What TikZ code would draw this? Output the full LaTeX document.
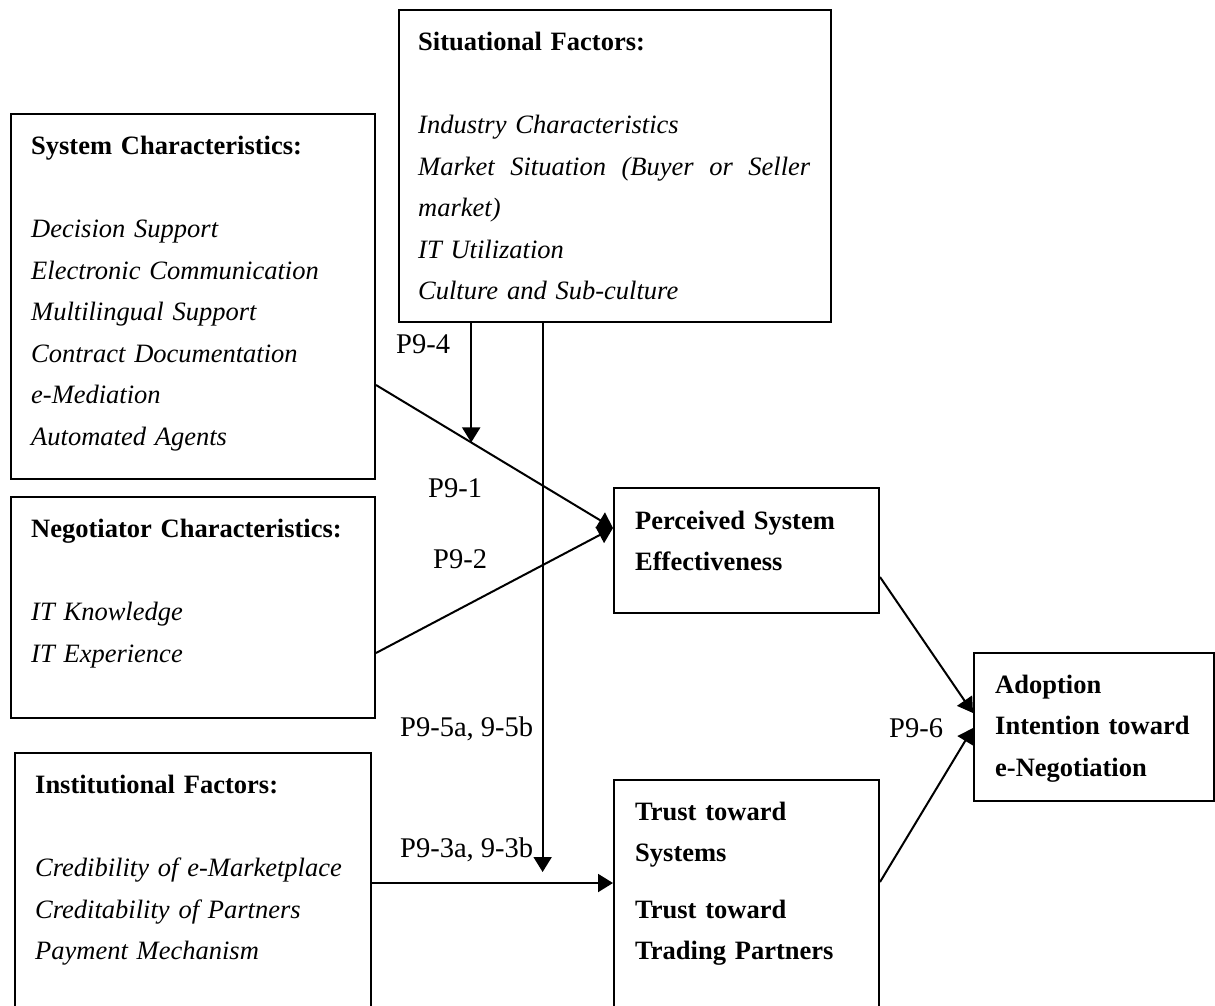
\documentclass[tikz,border=0pt]{standalone}
\usepackage{fontspec}
\setmainfont{Liberation Serif}
\usetikzlibrary{arrows.meta,calc}
\tikzset{
  factor/.style={draw,line width=2pt,anchor=north west,inner sep=0pt},
  facttext/.style={anchor=base west,inner sep=0pt,align=left,font=\fontsize{26.5}{41.5}\selectfont},
  plabel/.style={anchor=base west,inner sep=0pt,font=\fontsize{28.5}{34}\selectfont},
  arr/.style={line width=2pt,-{Triangle[length=15pt,width=18pt]}},
}
\begin{document}
\begin{tikzpicture}[x=1pt,y=-1pt]
  \useasboundingbox (0,0) rectangle (1215,1005);
  \clip (0,0) rectangle (1215,1005);
  \node[factor,minimum width=432pt,minimum height=312pt] (sit) at (398,9) {};
  \node[factor,minimum width=364pt,minimum height=365pt] (sys) at (10,113) {};
  \node[factor,minimum width=364pt,minimum height=221pt] (neg) at (10,496) {};
  \node[factor,minimum width=356pt,minimum height=280pt] (inst) at (14,752) {};
  \node[factor,minimum width=265pt,minimum height=125pt] (pse) at (613,487) {};
  \node[factor,minimum width=265pt,minimum height=250pt] (trust) at (613,779) {};
  \node[factor,minimum width=240pt,minimum height=148pt] (adopt) at (973,652) {};
  \node[facttext,text width=400pt] (sittxt) at ([xshift=20pt,yshift=-41.5pt]sit.north west)
    {\textbf{Situational Factors:}\\[41.5pt]\itshape Industry Characteristics\\
     \leavevmode\hbox to 392pt{Market\hfill Situation\hfill (Buyer\hfill or\hfill Seller}\\ market)\\ IT Utilization\\
     Culture and Sub-culture};
  \node[facttext,text width=340pt] (systxt) at ([xshift=21pt,yshift=-41.5pt]sys.north west)
    {\textbf{System Characteristics:}\\[41.5pt]\itshape Decision Support\\ Electronic Communication\\
     Multilingual Support\\ Contract Documentation\\ e-Mediation\\ Automated Agents};
  \node[facttext,text width=340pt] (negtxt) at ([xshift=21pt,yshift=-41.5pt]neg.north west)
    {\textbf{Negotiator Characteristics:}\\[41.5pt]\itshape IT Knowledge\\ IT Experience};
  \node[facttext,text width=330pt] (insttxt) at ([xshift=21pt,yshift=-41.5pt]inst.north west)
    {\textbf{Institutional Factors:}\\[41.5pt]\itshape Credibility of e-Marketplace\\
     Creditability of Partners\\ Payment Mechanism};
  \node[facttext,text width=240pt,font=\fontsize{26.5}{41.5}\selectfont\bfseries] (psetxt)
    at ([xshift=22pt,yshift=-42pt]pse.north west) {Perceived System\\ Effectiveness};
  \node[facttext,text width=240pt,font=\fontsize{26.5}{41.5}\selectfont\bfseries] (trusttxt)
    at ([xshift=22pt,yshift=-41pt]trust.north west)
    {Trust toward\\ Systems\\[15pt] Trust toward\\ Trading Partners};
  \node[facttext,text width=215pt,font=\fontsize{26.5}{41.5}\selectfont\bfseries] (adopttxt)
    at ([xshift=22pt,yshift=-41pt]adopt.north west)
    {Adoption\\ Intention toward\\ e-Negotiation};
  \node[plabel] (p94) at (396,353) {P9-4};
  \node[plabel] (p91) at (428,497) {P9-1};
  \node[plabel] (p92) at (433,568) {P9-2};
  \node[plabel] (p95) at (400,736) {P9-5a, 9-5b};
  \node[plabel] (p93) at (400,857) {P9-3a, 9-3b};
  \node[plabel] (p96) at (889,737) {P9-6};
  % paths into the boxes
  \coordinate (psein) at ([yshift=-41pt]pse.north west);
  \draw[arr] ([yshift=95pt]sys.south east) -- (psein) coordinate[pos=.4017] (m1);
  \draw[arr] ([yshift=-157pt]neg.north east) -- (psein);
  \draw[arr] ([yshift=-131pt]inst.north east) -- ([yshift=-104pt]trust.north west) coordinate[pos=.708] (m2);
  \draw[arr] ([yshift=-90pt]pse.north east) -- ([yshift=-61pt]adopt.north west);
  \draw[arr] ([yshift=-103pt]trust.north east) -- ([yshift=-76pt]adopt.north west);
  % moderating arrows
  \draw[arr] (m1 |- sit.south) -- (m1);
  \draw[arr,shorten >=11pt] (m2 |- sit.south) -- (m2);
\end{tikzpicture}
\end{document}
